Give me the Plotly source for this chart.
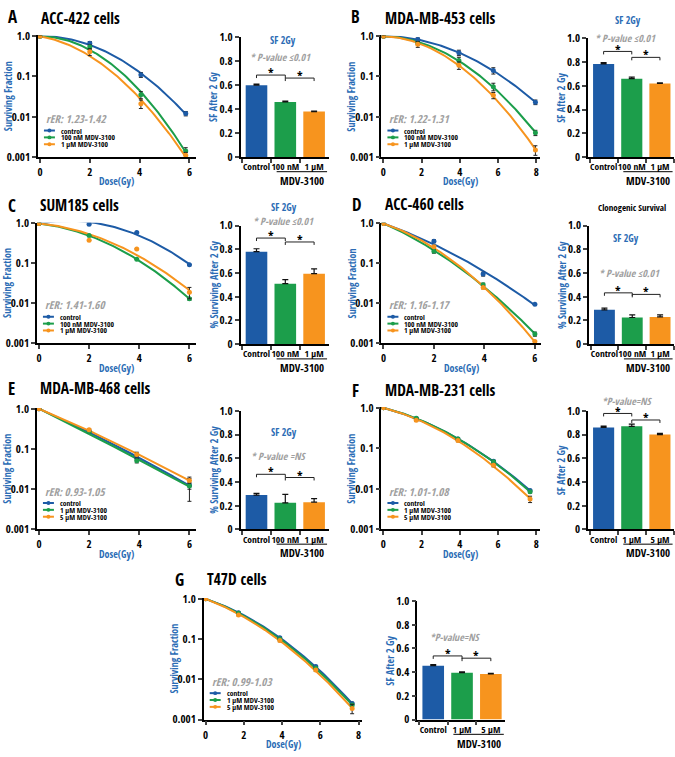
import numpy as np
import plotly.graph_objects as go

FONT = "Open Sans Condensed, Open Sans, sans-serif"
BLUE = "#1d5ba6"
GREEN = "#1c9e4b"
ORANGE = "#f7941e"
TBLUE = "#2b6cb5"
GRAY = "#a0a0a0"
W, H = 675, 757

# ---------------- data ----------------
panel_keys = ["A", "B", "C", "D", "E", "F", "G"]
cell_names = ["ACC-422 cells", "MDA-MB-453 cells", "SUM185 cells", "ACC-460 cells",
              "MDA-MB-468 cells", "MDA-MB-231 cells", "T47D cells"]
rer_texts = ["rER: 1.23-1.42", "rER: 1.22-1.31", "rER: 1.41-1.60", "rER: 1.16-1.17",
             "rER: 0.93-1.05", "rER: 1.01-1.08", "rER: 0.99-1.03"]
legend_nM = ["control", "100 nM MDV-3100", "1 \u03bcM MDV-3100"]
legend_uM = ["control", "1 \u03bcM MDV-3100", "5 \u03bcM MDV-3100"]
cats_nM = ["Control", "100 nM", "1 \u03bcM"]
cats_uM = ["Control", "1 \u03bcM", "5 \u03bcM"]
bar_ytitles = ["SF After 2 Gy", "SF After 2 Gy", "% Surviving After 2 Gy", "% Surviving After 2 Gy",
               "% Surviving After 2 Gy", "SF After 2 Gy", "SF After 2 Gy"]
pvalue_texts = ["* P-value \u22640.01", "* P-value \u22640.01", "* P-value \u22640.01",
                "* P-value \u22640.01", "* P-value =NS", "*P-value=NS", "*P-value=NS"]

# Panel A  ACC-422
A_dose = [0, 2.0, 4.05, 5.85]
A_ctrl = [1.0, 0.67, 0.11, 0.012]
A_ctrl_err = [0.06, 0.07, 0.015, 0.0015]
A_low = [1.0, 0.54, 0.035, 0.0014]
A_low_err = [0.05, 0.07, 0.007, 0.0003]
A_high = [1.0, 0.41, 0.021, 0.0011]
A_high_err = [0.05, 0.08, 0.005, 0.0002]
A_bar = [0.60, 0.46, 0.38]
A_bar_err = [0.01, 0.008, 0.004]

# Panel B  MDA-MB-453
B_dose = [0, 1.8, 3.95, 5.75, 7.95]
B_ctrl = [1.0, 0.83, 0.39, 0.14, 0.023]
B_ctrl_err = [0.08, 0.08, 0.06, 0.025, 0.003]
B_low = [1.0, 0.67, 0.25, 0.056, 0.004]
B_low_err = [0.05, 0.06, 0.05, 0.012, 0.0006]
B_high = [1.0, 0.63, 0.19, 0.034, 0.0015]
B_high_err = [0.05, 0.1, 0.04, 0.006, 0.0004]
B_bar = [0.785, 0.66, 0.62]
B_bar_err = [0.01, 0.014, 0.005]

# Panel C  SUM185
C_dose = [0, 2.0, 3.9, 6.0]
C_ctrl = [1.0, 0.96, 0.59, 0.092]
C_ctrl_err = [0, 0, 0, 0]
C_low = [1.0, 0.50, 0.126, 0.013]
C_low_err = [0, 0, 0, 0.001]
C_high = [1.0, 0.38, 0.23, 0.019]
C_high_err = [0, 0, 0, 0.006]
C_bar = [0.78, 0.51, 0.595]
C_bar_err = [0.025, 0.035, 0.04]

# Panel D  ACC-460
D_dose = [0, 2.0, 3.95, 6.0]
D_ctrl = [1.0, 0.36, 0.054, 0.0095]
D_ctrl_err = [0, 0.03, 0.006, 0]
D_low = [1.0, 0.20, 0.029, 0.0017]
D_low_err = [0, 0.02, 0.003, 0.0002]
D_high = [1.0, 0.26, 0.025, 0.0011]
D_high_err = [0, 0.02, 0.002, 0]
D_bar = [0.29, 0.225, 0.23]
D_bar_err = [0.015, 0.022, 0.018]

# Panel E  MDA-MB-468
E_dose = [0, 2.0, 3.9, 6.0]
E_ctrl = [1.0, 0.28, 0.06, 0.0125]
E_ctrl_err = [0, 0.02, 0.008, 0.0075]
E_low = [1.0, 0.27, 0.051, 0.012]
E_low_err = [0, 0.02, 0.006, 0.002]
E_high = [1.0, 0.30, 0.073, 0.0165]
E_high_err = [0, 0.02, 0.01, 0.002]
E_bar = [0.29, 0.225, 0.23]
E_bar_err = [0.015, 0.07, 0.03]

# Panel F  MDA-MB-231
F_dose = [0, 1.72, 3.9, 5.76, 7.67]
F_ctrl = [1.0, 0.54, 0.17, 0.048, 0.0091]
F_ctrl_err = [0, 0.03, 0.01, 0.003, 0.0006]
F_low = [1.0, 0.55, 0.17, 0.047, 0.0085]
F_low_err = [0, 0.03, 0.01, 0.003, 0.0006]
F_high = [1.0, 0.49, 0.155, 0.038, 0.0056]
F_high_err = [0, 0.03, 0.01, 0.003, 0.001]
F_bar = [0.86, 0.87, 0.80]
F_bar_err = [0.012, 0.018, 0.01]

# Panel G  T47D
G_dose = [0, 1.72, 3.88, 5.76, 7.66]
G_ctrl = [1.0, 0.45, 0.108, 0.021, 0.0025]
G_ctrl_err = [0, 0.02, 0.006, 0.0012, 0.0002]
G_low = [1.0, 0.44, 0.10, 0.019, 0.0023]
G_low_err = [0, 0.02, 0.006, 0.0012, 0.0002]
G_high = [1.0, 0.40, 0.092, 0.017, 0.0019]
G_high_err = [0, 0.02, 0.006, 0.0012, 0.0005]
G_bar = [0.455, 0.395, 0.385]
G_bar_err = [0.008, 0.008, 0.005]

# significance bracket heights (bar-axis values)
A_sig = [0.685, 0.66]
B_sig = [0.89, 0.84]
C_sig = [0.895, 0.862]
D_sig = [0.433, 0.42]
E_sig = [0.465, 0.438]
F_sig = [0.978, 0.923]
G_sig = [0.537, 0.518]

DATA = {
    "A": (A_dose, [A_ctrl, A_low, A_high], [A_ctrl_err, A_low_err, A_high_err], A_bar, A_bar_err, A_sig),
    "B": (B_dose, [B_ctrl, B_low, B_high], [B_ctrl_err, B_low_err, B_high_err], B_bar, B_bar_err, B_sig),
    "C": (C_dose, [C_ctrl, C_low, C_high], [C_ctrl_err, C_low_err, C_high_err], C_bar, C_bar_err, C_sig),
    "D": (D_dose, [D_ctrl, D_low, D_high], [D_ctrl_err, D_low_err, D_high_err], D_bar, D_bar_err, D_sig),
    "E": (E_dose, [E_ctrl, E_low, E_high], [E_ctrl_err, E_low_err, E_high_err], E_bar, E_bar_err, E_sig),
    "F": (F_dose, [F_ctrl, F_low, F_high], [F_ctrl_err, F_low_err, F_high_err], F_bar, F_bar_err, F_sig),
    "G": (G_dose, [G_ctrl, G_low, G_high], [G_ctrl_err, G_low_err, G_high_err], G_bar, G_bar_err, G_sig),
}

# ---------------- layout geometry (pixels) ----------------
GEOM = {
    "A": dict(line=(37, 195, 28, 152), bar=(240, 328, 30, 152), letter=(5, 9), title=(38, 10), xr=[-0.08, 6.25], xt=[0, 2, 4, 6]),
    "B": dict(line=(381, 540, 28, 152), bar=(588, 674, 31, 152), letter=(349, 9), title=(383, 10), xr=[-0.1, 8.2], xt=[0, 2, 4, 6, 8]),
    "C": dict(line=(36, 195, 219, 342), bar=(240, 328, 222, 343), letter=(5, 201), title=(37, 201), xr=[-0.08, 6.25], xt=[0, 2, 4, 6]),
    "D": dict(line=(381, 541, 219, 342), bar=(589, 674, 222, 343), letter=(350, 200), title=(383, 200), xr=[-0.08, 6.25], xt=[0, 2, 4, 6]),
    "E": dict(line=(36, 195, 408, 532), bar=(240, 328, 411, 532), letter=(5, 388), title=(37, 388), xr=[-0.08, 6.25], xt=[0, 2, 4, 6]),
    "F": dict(line=(381, 540, 407, 532), bar=(588, 674, 411, 532), letter=(350, 390), title=(383, 390), xr=[-0.1, 8.2], xt=[0, 2, 4, 6, 8]),
    "G": dict(line=(203, 362, 602, 726), bar=(417, 505, 605, 726), letter=(172, 583), title=(204, 583), xr=[-0.1, 8.2], xt=[0, 2, 4, 6, 8]),
}
# extra bar-panel text: (text, x px, y px, style)
BAR_TEXT = {
    "A": [("SF 2Gy", 282, 33, "sf"), (pvalue_texts[0], 280, 50, "p")],
    "B": [("SF 2Gy", 628, 12, "sf"), (pvalue_texts[1], 625, 31, "p")],
    "C": [("SF 2Gy", 283, 203, "sf"), (pvalue_texts[2], 283, 217, "p")],
    "D": [("Clonogenic Survival", 632, 204, "c"), ("SF 2Gy", 626, 235, "sf"), (pvalue_texts[3], 629, 270, "p")],
    "E": [("SF 2Gy", 283, 433, "sf"), (pvalue_texts[4], 278, 457, "p")],
    "F": [(pvalue_texts[5], 627, 401, "p")],
    "G": [(pvalue_texts[6], 455, 642, "p")],
}


def px(x):
    return x / W


def py(y):
    return 1 - y / H


def lq_fit(d, s):
    d = np.asarray(d, float)
    s = np.asarray(s, float)
    m = d > 0
    A = np.column_stack([d[m], d[m] ** 2])
    coef, *_ = np.linalg.lstsq(A, -np.log(s[m]), rcond=None)
    return coef


def F(size, color="black", italic=False):
    f = dict(family=FONT, size=size, color=color, weight="bold")
    if italic:
        f["style"] = "italic"
    return f


fig = go.Figure()
layout = dict(width=W, height=H, margin=dict(l=0, r=0, t=0, b=0), showlegend=False,
              plot_bgcolor="white", paper_bgcolor="white",
              font=dict(family=FONT, size=10, color="black"))
annotations = []
shapes = []
colors = [BLUE, GREEN, ORANGE]
tickfont = F(11)
cattickfont = F(9.5)


def note(text, x, y, font, xref="paper", yref="paper", xanchor="center", yanchor="middle", angle=0):
    annotations.append(dict(text=text, x=x, y=y, xref=xref, yref=yref, xanchor=xanchor, yanchor=yanchor,
                            textangle=angle, showarrow=False, font=font))


for i, key in enumerate(panel_keys):
    g = GEOM[key]
    dose, series, errs, bars, bar_errs, sig = DATA[key]
    legend_labels = legend_nM if i < 4 else legend_uM
    cats = cats_nM if i < 5 else cats_uM
    nl, nb = 2 * i + 1, 2 * i + 2
    xl, yl = ("x", "y") if nl == 1 else (f"x{nl}", f"y{nl}")
    xb, yb = f"x{nb}", f"y{nb}"

    # ---- survival curves (linear-quadratic fit of the points) ----
    for s, c in zip(series, colors):
        a, b = lq_fit(dose, s)
        dd = np.linspace(0, max(dose), 80)
        fig.add_trace(go.Scatter(x=dd, y=np.exp(-(a * dd + b * dd ** 2)), mode="lines",
                                 line=dict(color=c, width=2), xaxis=xl, yaxis=yl, hoverinfo="skip"))
    for s, e, c in zip(series, errs, colors):
        fig.add_trace(go.Scatter(x=dose, y=s, mode="markers", marker=dict(color=c, size=5),
                                 error_y=dict(type="data", array=e, color="#222", thickness=1, width=2),
                                 xaxis=xl, yaxis=yl))
    x0, x1, yt, ybt = g["line"]
    layout["xaxis" if nl == 1 else f"xaxis{nl}"] = dict(
        domain=[px(x0), px(x1)], anchor=yl, range=g["xr"], tickvals=g["xt"], ticks="outside",
        ticklen=4, tickwidth=1.5, showline=True, linecolor="black", linewidth=1.5,
        showgrid=False, zeroline=False, tickfont=tickfont, tickangle=0)
    layout["yaxis" if nl == 1 else f"yaxis{nl}"] = dict(
        domain=[py(ybt), py(yt)], anchor=xl, type="log", range=[-3, 0.02],
        tickvals=[0.001, 0.01, 0.1, 1], ticktext=["0.001", "0.01", "0.1", "1.0"],
        ticks="outside", ticklen=4, tickwidth=1.5, showline=True, linecolor="black",
        linewidth=1.5, showgrid=False, zeroline=False, tickfont=tickfont)
    note("Surviving Fraction", px(x0 - 30), py((yt + ybt) / 2), F(10, TBLUE), angle=-90)
    note("Dose(Gy)", px((x0 + x1) / 2), py(ybt + 25), F(10, TBLUE))
    note(rer_texts[i], px(x0 + 6), py(ybt - 39), F(11, GRAY, True), xanchor="left")
    for k, (lab, c) in enumerate(zip(legend_labels, colors)):
        yy = ybt - 27 + 7 * k
        shapes.append(dict(type="line", xref="paper", yref="paper", x0=px(x0 + 6), x1=px(x0 + 17),
                           y0=py(yy), y1=py(yy), line=dict(color=c, width=2)))
        shapes.append(dict(type="circle", xref="paper", yref="paper", x0=px(x0 + 9.5), x1=px(x0 + 13.5),
                           y0=py(yy - 2), y1=py(yy + 2), fillcolor=c, line=dict(color=c, width=0)))
        note(lab, px(x0 + 21), py(yy), F(7.5), xanchor="left")
    note(key, px(g["letter"][0]), py(g["letter"][1]), F(17), xanchor="left")
    note(cell_names[i], px(g["title"][0]), py(g["title"][1]), F(15.5), xanchor="left")

    # ---- bar chart ----
    fig.add_trace(go.Bar(x=cats, y=bars, marker=dict(color=colors, line=dict(width=0)), width=0.75,
                         error_y=dict(type="data", array=bar_errs, arrayminus=[0, 0, 0], symmetric=False,
                                      color="#111", thickness=1.2, width=3),
                         xaxis=xb, yaxis=yb))
    bx0, bx1, byt, byb = g["bar"]
    layout[f"xaxis{nb}"] = dict(domain=[px(bx0), px(bx1)], anchor=yb, type="category", range=[-0.55, 2.5],
                                tickson="boundaries", ticks="outside", ticklen=4, tickwidth=1.5,
                                showline=True, linecolor="black", linewidth=1.5, showgrid=False,
                                tickfont=cattickfont, tickangle=0)
    layout[f"yaxis{nb}"] = dict(domain=[py(byb), py(byt)], anchor=xb, range=[0, 1.0],
                                tickvals=[0, 0.2, 0.4, 0.6, 0.8, 1.0],
                                ticktext=["0", "0.2", "0.4", "0.6", "0.8", "1.0"],
                                ticks="outside", ticklen=4, tickwidth=1.5, showline=True,
                                linecolor="black", linewidth=1.5, showgrid=False, zeroline=False,
                                tickfont=tickfont)
    note(bar_ytitles[i], px(bx0 - 27), py((byt + byb) / 2), F(10, TBLUE), angle=-90)
    shapes.append(dict(type="line", xref=xb, yref="paper", x0=0.7, x1=2.45, y0=py(byb + 15), y1=py(byb + 15),
                       line=dict(color="black", width=1)))
    note("MDV-3100", 1.58, py(byb + 24), F(11), xref=xb)
    for (ia, ib), h in zip([(0, 1), (1, 2)], sig):
        for (sx0, sy0, sx1, sy1) in [(ia, h - 0.025, ia, h), (ia, h, ib, h), (ib, h, ib, h - 0.025)]:
            shapes.append(dict(type="line", xref=xb, yref=yb, x0=sx0, y0=sy0, x1=sx1, y1=sy1,
                               line=dict(color="#222", width=1)))
        note("*", (ia + ib) / 2, h + 0.012, F(12), xref=xb, yref=yb, yanchor="middle")
    for (txt, tx, ty, st) in BAR_TEXT[key]:
        if st == "sf":
            f = F(10, TBLUE)
        elif st == "p":
            f = F(10, GRAY, True)
        else:
            f = F(9)
        note(txt, px(tx), py(ty), f)

layout["annotations"] = annotations
layout["shapes"] = shapes
fig.update_layout(**layout)
fig.write_html("out.html", config={"displayModeBar": False},
               post_script="document.body.style.margin='0px';document.body.style.overflow='hidden';")
